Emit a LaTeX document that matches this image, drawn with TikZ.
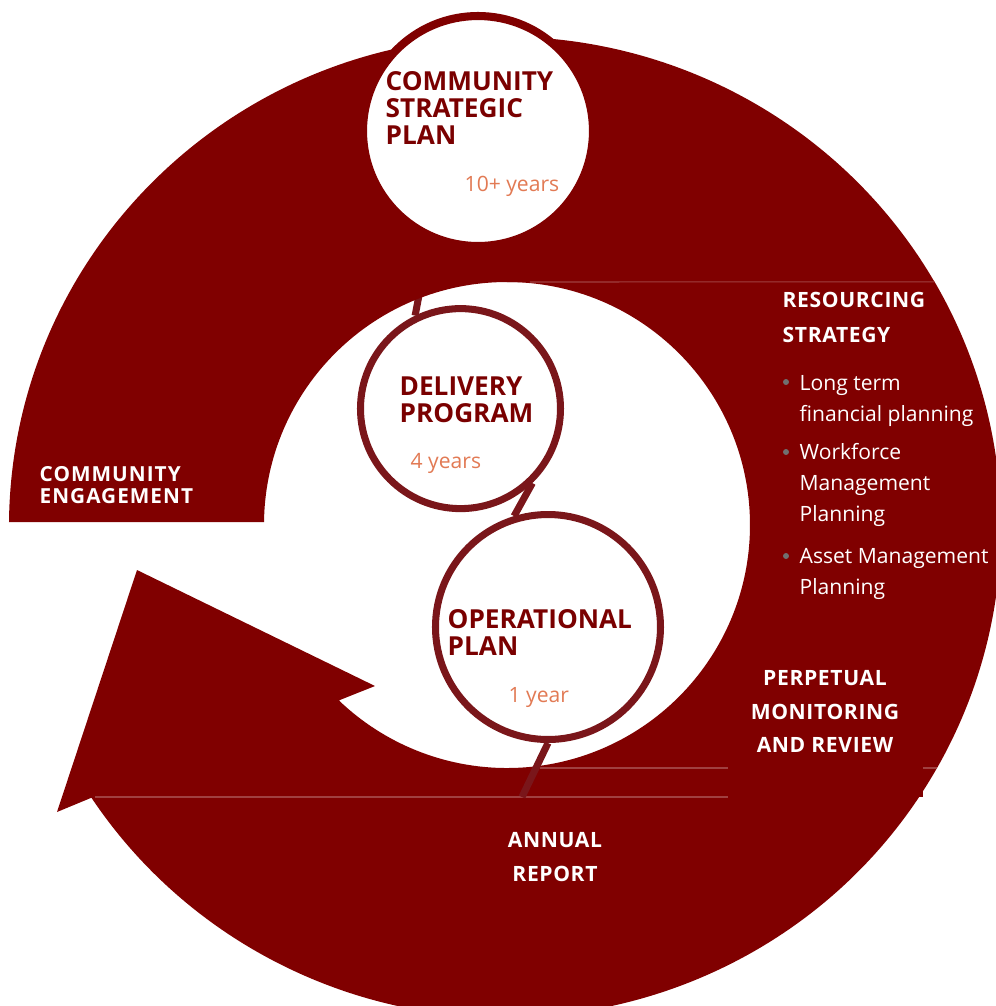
\documentclass[tikz,border=0pt]{standalone}
\usepackage{fontspec}
\setmainfont{Open Sans}
\usetikzlibrary{positioning}

\definecolor{ringred}{RGB}{128,0,0}
\definecolor{chainred}{RGB}{122,22,26}
\definecolor{titlered}{RGB}{122,0,0}
\definecolor{spanorange}{RGB}{226,122,84}
\definecolor{dotgrey}{RGB}{112,112,112}
\definecolor{seamred}{RGB}{160,64,64}

\pgfdeclarelayer{chain}
\pgfdeclarelayer{ring}
\pgfsetlayers{chain,ring,main}

\begin{document}
\begin{tikzpicture}[
ringpart/.style={fill=ringred},
seam/.style={line width=0.3pt, seamred},
stage/.style={circle, draw=chainred, line width=2pt, fill=white, inner sep=0pt},
chain/.style={line width=2pt, chainred},
stagetitle/.style={anchor=north west, inner sep=0pt, align=left, text=titlered, font=\bfseries\fontsize{7.45}{7.6}\selectfont},
yearspan/.style={anchor=north west, inner sep=0pt, text=spanorange, font=\fontsize{6}{8}\selectfont},
boxtitle/.style={inner sep=0pt, text=white, font=\bfseries\fontsize{6}{9.5}\selectfont\addfontfeatures{LetterSpace=3}},
bullettext/.style={anchor=north west, inner sep=0pt, align=left, text=white, font=\fontsize{6}{8.8}\selectfont}]

\useasboundingbox (0,0) rectangle (9.96,-10.06);

% the three stages
\node[stage, draw=ringred, line width=2.3pt, minimum size=2.3cm] (csp) at (4.78,-1.31) {};
\node[stage, minimum size=2.0cm] (dp) at (4.605,-4.086) {};
\node[stage, minimum size=2.25cm] (op) at (5.48,-6.27) {};

% ring pieces
\begin{pgfonlayer}{ring}
\fill[ringpart] (0.09,-5.22) arc[start angle=179.4, end angle=30, x radius=4.96, y radius=4.905]
    -- (5.07,-2.82) arc[start angle=90, end angle=179.3, radius=2.43] -- cycle;
\fill[ringpart] (5.07,-2.82) -- (9.346,-2.818) arc[start angle=30, end angle=-29.43, x radius=4.96, y radius=4.905]
    -- (5.07,-7.68) arc[start angle=-90, end angle=90, radius=2.43] -- cycle;
\fill[ringpart] (5.07,-7.68) -- (9.370,-7.680) arc[start angle=-29.43, end angle=-146.5, x radius=4.96, y radius=4.905]
    -- (0.57,-8.12) -- (1.37,-5.70) -- (3.75,-6.86) -- (3.389,-7.004)
    arc[start angle=226.2, end angle=270, radius=2.43] -- cycle;
\fill[ringpart] (7.28,-6.6) rectangle (9.23,-7.97);

\draw[seam] (5.3,-2.82) -- (9.346,-2.818);
\draw[seam] (5.4,-7.68) -- (7.28,-7.68) (9.23,-7.68) -- (9.37,-7.68);
\draw[seam] (0.95,-7.97) -- (7.28,-7.97);
\end{pgfonlayer}

% chain between the stages
\begin{pgfonlayer}{chain}
\draw[chain] (csp.-114) -- (dp.116);
\end{pgfonlayer}
\draw[chain] (dp.-46) -- (op.107);
\coordinate (reportend) at (5.22,-7.97);
\draw[chain] (op.-90) -- (reportend);

\node[stagetitle] (csptitle) at (3.85,-0.71) {COMMUNITY\\STRATEGIC\\PLAN};
\node[yearspan] (cspspan) at (4.64,-1.75) {10+ years};
\node[stagetitle] (dptitle) at (3.99,-3.76) {DELIVERY\\PROGRAM};
\node[yearspan] (dpspan) at (4.10,-4.53) {4 years};
\node[stagetitle] (optitle) at (4.47,-6.09) {OPERATIONAL\\PLAN};
\node[yearspan] (opspan) at (5.08,-6.87) {1 year};

\node[boxtitle, anchor=north west, align=left, font=\bfseries\fontsize{5.9}{6.2}\selectfont\addfontfeatures{LetterSpace=5}] (engage) at (0.39,-4.66) {COMMUNITY\\ENGAGEMENT};
\node[boxtitle, anchor=north west, align=left, font=\bfseries\fontsize{6}{10.2}\selectfont\addfontfeatures{LetterSpace=3}] (resource) at (7.82,-2.91) {RESOURCING\\STRATEGY};

\fill[dotgrey] (7.86,-3.82) circle (0.03);
\fill[dotgrey] (7.86,-4.52) circle (0.03);
\fill[dotgrey] (7.86,-5.56) circle (0.03);
\node[bullettext] (finance) at (7.99,-3.75) {Long term\\financial planning};
\node[bullettext] (workforce) at (7.99,-4.43) {Workforce\\Management\\Planning};
\node[bullettext] (assets) at (7.99,-5.48) {Asset Management\\Planning};

\node[boxtitle, anchor=north, align=center] (review) at (8.25,-6.70) {PERPETUAL\\MONITORING\\AND REVIEW};
\node[boxtitle, anchor=north, align=center] (report) at (5.55,-8.32) {ANNUAL\\REPORT};

\end{tikzpicture}
\end{document}
